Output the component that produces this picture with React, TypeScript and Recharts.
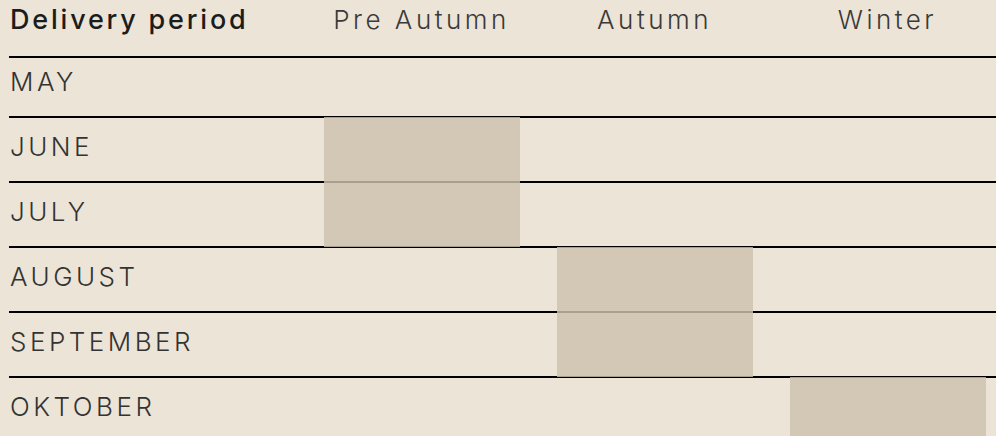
import React from 'react';
import { BarChart, Bar, XAxis, YAxis, CartesianGrid, Label } from 'recharts';

const months = ['MAY', 'JUNE', 'JULY', 'AUGUST', 'SEPTEMBER', 'OKTOBER'];
const seasons = ['Pre Autumn', 'Autumn', 'Winter'];
const seasonFirstMonth = ['JUNE', 'AUGUST', 'OKTOBER'];
const seasonLastMonth = ['JULY', 'SEPTEMBER', 'OKTOBER'];
const headerTitle = 'Delivery period';

const data = seasons.map((season, i) => ({
  season,
  range: [months.indexOf(seasonFirstMonth[i]), months.indexOf(seasonLastMonth[i]) + 1],
}));

const monthTicks = months.map((_, i) => i + 0.5);
const boundaries = months.slice(1).map((_, i) => i + 1);

const FONT = 'Inter, "Noto Sans", sans-serif';
const BG = '#ece4d6';

const gridGenerator = (props: any) => {
  const { yAxis, offset } = props;
  const coords: number[] = [offset.top];
  const s = yAxis?.scale;
  const fn =
    typeof s === 'function'
      ? s
      : s && typeof s.map === 'function'
      ? (v: number) => s.map(v)
      : null;
  if (fn) {
    boundaries.forEach((v) => coords.push(fn(v)));
  }
  return coords;
};

export default function App() {
  return (
    <div
      style={{
        position: 'absolute',
        left: 0,
        top: 0,
        width: 996,
        height: 436,
        overflow: 'hidden',
        background: BG,
      }}
    >
      <BarChart
        width={1004}
        height={442}
        data={data}
        margin={{ top: 0, right: 0, bottom: 0, left: 0 }}
      >
        <CartesianGrid
          vertical={false}
          horizontal
          x={9}
          width={995}
          stroke="#000"
          strokeWidth={2}
          horizontalCoordinatesGenerator={gridGenerator}
        />
        <XAxis
          dataKey="season"
          type="category"
          orientation="top"
          height={57}
          axisLine={false}
          tickLine={false}
          tickSize={0}
          tickMargin={28}
          interval={0}
          tick={{ fontFamily: FONT, fontSize: 26, fontWeight: 300, fill: '#3a3a3a', letterSpacing: 3.5 }}
        />
        <YAxis
          type="number"
          domain={[0, months.length]}
          reversed
          width={305}
          ticks={monthTicks}
          interval={0}
          padding={{ top: -5, bottom: 0 }}
          tickFormatter={(v: number) => months[Math.floor(v)]}
          axisLine={false}
          tickLine={false}
          tickSize={0}
          tickMargin={295}
          tick={{ fontFamily: FONT, fontSize: 26, fontWeight: 300, fill: '#333', letterSpacing: 3.5, textAnchor: 'start', dy: -2.5 }}
        >
          <Label
            position="insideTopLeft"
            content={(p: any) => (
              <text
                x={(p.viewBox?.x ?? 0) + 10}
                y={(p.viewBox?.y ?? 57) - 28}
                fontFamily={FONT}
                fontSize={27}
                fontWeight={500}
                fill="#1c1c1c"
                letterSpacing={2.8}
              >
                {headerTitle}
              </text>
            )}
          />
        </YAxis>
        <Bar
          dataKey="range"
          barSize={196}
          fill="#cdc2af"
          fillOpacity={0.82}
          isAnimationActive={false}
        />
      </BarChart>
    </div>
  );
}
